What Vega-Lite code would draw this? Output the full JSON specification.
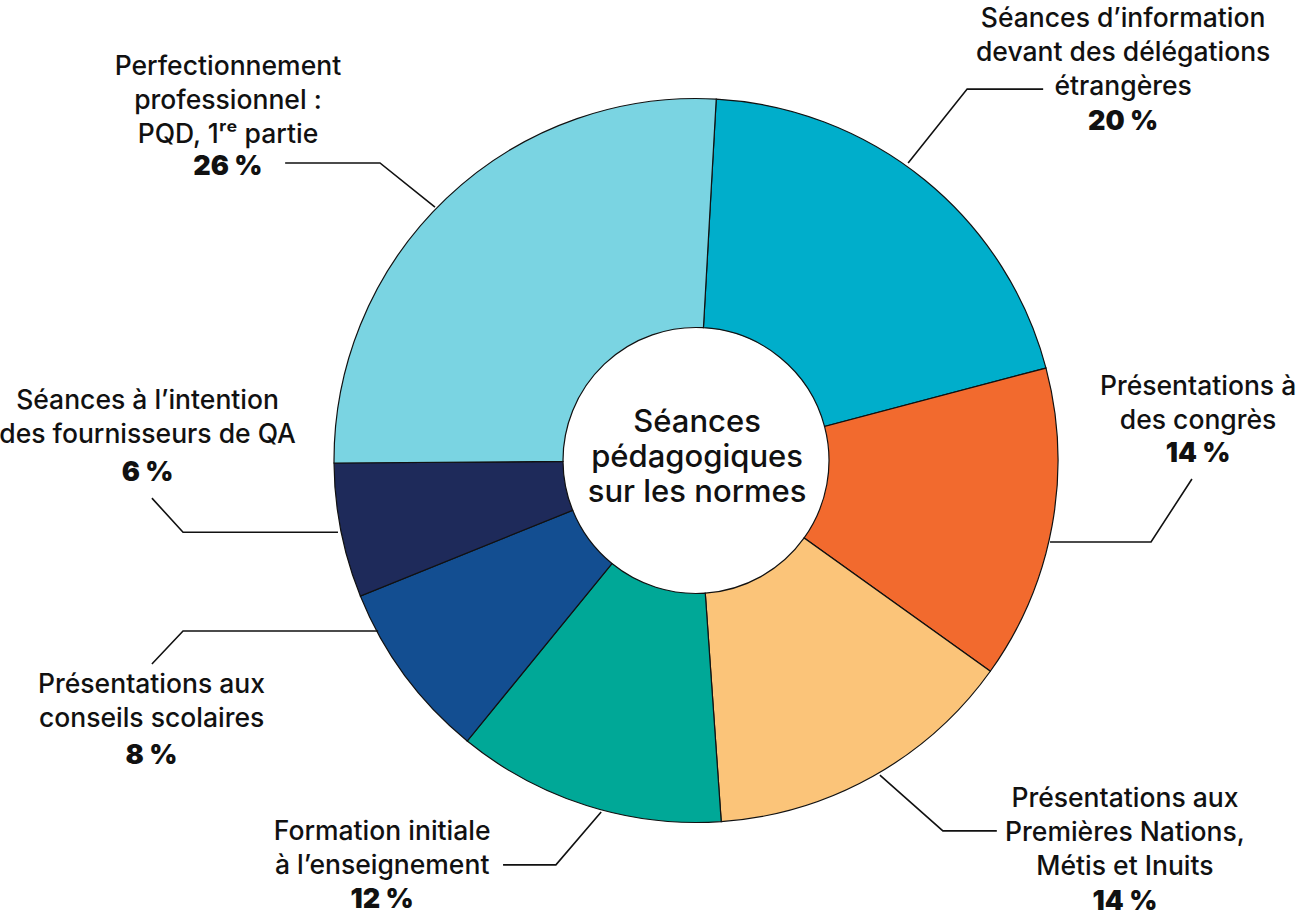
{
  "$schema": "https://vega.github.io/schema/vega-lite/v6.json",
  "width": 1214,
  "height": 921,
  "autosize": {"type": "none"},
  "padding": {"left": 89, "top": 0, "right": 0, "bottom": 0},
  "background": "white",
  "config": {"view": {"stroke": null}, "font": "Inter"},
  "datasets": {
    "slices": [
      {"cat": "info", "value": 20, "order": 1},
      {"cat": "congres", "value": 14, "order": 2},
      {"cat": "pnmi", "value": 14, "order": 3},
      {"cat": "formation", "value": 12, "order": 4},
      {"cat": "conseils", "value": 8, "order": 5},
      {"cat": "fournisseurs", "value": 6, "order": 6},
      {"cat": "pqd", "value": 26, "order": 7}
    ],
    "leaders": [
      {"cat": "info", "pt": 1, "x": 58.6, "y": 82.2},
      {"cat": "info", "pt": 2, "x": 74.9, "y": 102.6},
      {"cat": "info", "pt": 3, "x": 95.9, "y": 102.6},
      {"cat": "congres", "pt": 1, "x": 97.8, "y": -22.5},
      {"cat": "congres", "pt": 2, "x": 125.7, "y": -22.5},
      {"cat": "congres", "pt": 3, "x": 137.0, "y": -5.1},
      {"cat": "pnmi", "pt": 1, "x": 50.8, "y": -86.9},
      {"cat": "pnmi", "pt": 2, "x": 68.2, "y": -102.3},
      {"cat": "pnmi", "pt": 3, "x": 83.1, "y": -102.3},
      {"cat": "formation", "pt": 1, "x": -26.2, "y": -97.1},
      {"cat": "formation", "pt": 2, "x": -38.7, "y": -111.7},
      {"cat": "formation", "pt": 3, "x": -53.3, "y": -111.7},
      {"cat": "conseils", "pt": 1, "x": -87.8, "y": -47.1},
      {"cat": "conseils", "pt": 2, "x": -141.7, "y": -47.1},
      {"cat": "conseils", "pt": 3, "x": -150.3, "y": -56.2},
      {"cat": "fournisseurs", "pt": 1, "x": -98.9, "y": -19.8},
      {"cat": "fournisseurs", "pt": 2, "x": -141.7, "y": -19.8},
      {"cat": "fournisseurs", "pt": 3, "x": -150.3, "y": -10.4},
      {"cat": "pqd", "pt": 1, "x": -72.1, "y": 70.0},
      {"cat": "pqd", "pt": 2, "x": -87.3, "y": 82.2},
      {"cat": "pqd", "pt": 3, "x": -113.5, "y": 82.2}
    ],
    "labels": [
      {"cat": "info", "label": "Séances d’information\ndevant des délégations\nétrangères", "pct": "20 %", "lx": 118.0, "ly": 119.8, "py": 91.3},
      {"cat": "congres", "label": "Présentations à\ndes congrès", "pct": "14 %", "lx": 138.7, "ly": 18.1, "py": -0.4},
      {"cat": "pnmi", "label": "Présentations aux\nPremières Nations,\nMétis et Inuits", "pct": "14 %", "lx": 118.5, "ly": -95.7, "py": -124.2},
      {"cat": "formation", "label": "Formation initiale\nà l’enseignement", "pct": "12 %", "lx": -86.7, "ly": -104.8, "py": -123.6},
      {"cat": "conseils", "label": "Présentations aux\nconseils scolaires", "pct": "8 %", "lx": -150.4, "ly": -64.2, "py": -83.8},
      {"cat": "fournisseurs", "label": "Séances à l’intention\ndes fournisseurs de QA", "pct": "6 %", "lx": -151.5, "ly": 14.2, "py": -5.7},
      {"cat": "pqd", "label": "Perfectionnement\nprofessionnel :\nPQD, 1ʳᵉ partie", "pct": "26 %", "lx": -129.3, "ly": 106.5, "py": 78.9}
    ],
    "center": [
      {"label": "Séances\npédagogiques\nsur les normes", "lx": 0.3, "ly": 7.9}
    ]
  },
  "layer": [
    {
      "data": {"name": "slices"},
      "mark": {"type": "arc", "outerRadius": 362, "innerRadius": 133, "stroke": "#111111", "strokeWidth": 1.2},
      "encoding": {
        "theta": {"field": "value", "type": "quantitative", "stack": true, "scale": {"range": [0.0559, 6.3391]}},
        "order": {"field": "order", "type": "quantitative"},
        "color": {
          "field": "cat",
          "type": "nominal",
          "legend": null,
          "scale": {
            "domain": ["info", "congres", "pnmi", "formation", "conseils", "fournisseurs", "pqd"],
            "range": ["#00AECB", "#F26A2E", "#FBC479", "#00A897", "#134E91", "#1E2A5A", "#7AD4E2"]
          }
        }
      }
    },
    {
      "data": {"name": "leaders"},
      "mark": {"type": "line", "stroke": "#111111", "strokeWidth": 1.6},
      "encoding": {
        "x": {"field": "x", "type": "quantitative", "axis": null, "scale": {"domain": [-167.68, 167.68], "nice": false, "zero": false}},
        "y": {"field": "y", "type": "quantitative", "axis": null, "scale": {"domain": [-127.21, 127.21], "nice": false, "zero": false}},
        "detail": {"field": "cat", "type": "nominal"},
        "order": {"field": "pt", "type": "quantitative"}
      }
    },
    {
      "data": {"name": "labels"},
      "mark": {"type": "text", "lineBreak": "\n", "lineHeight": 34, "fontSize": 26.5, "fontWeight": 500, "align": "center", "baseline": "alphabetic", "color": "#111111"},
      "encoding": {
        "x": {"field": "lx", "type": "quantitative", "axis": null, "scale": {"domain": [-167.68, 167.68], "nice": false, "zero": false}},
        "y": {"field": "ly", "type": "quantitative", "axis": null, "scale": {"domain": [-127.21, 127.21], "nice": false, "zero": false}},
        "text": {"field": "label", "type": "nominal"}
      }
    },
    {
      "data": {"name": "labels"},
      "mark": {"type": "text", "fontSize": 27, "fontWeight": 900, "align": "center", "baseline": "alphabetic", "color": "#111111"},
      "encoding": {
        "x": {"field": "lx", "type": "quantitative", "axis": null, "scale": {"domain": [-167.68, 167.68], "nice": false, "zero": false}},
        "y": {"field": "py", "type": "quantitative", "axis": null, "scale": {"domain": [-127.21, 127.21], "nice": false, "zero": false}},
        "text": {"field": "pct", "type": "nominal"}
      }
    },
    {
      "data": {"name": "center"},
      "mark": {"type": "text", "lineBreak": "\n", "lineHeight": 35, "fontSize": 31, "fontWeight": 500, "align": "center", "baseline": "alphabetic", "color": "#111111"},
      "encoding": {
        "x": {"field": "lx", "type": "quantitative", "axis": null, "scale": {"domain": [-167.68, 167.68], "nice": false, "zero": false}},
        "y": {"field": "ly", "type": "quantitative", "axis": null, "scale": {"domain": [-127.21, 127.21], "nice": false, "zero": false}},
        "text": {"field": "label", "type": "nominal"}
      }
    }
  ]
}
